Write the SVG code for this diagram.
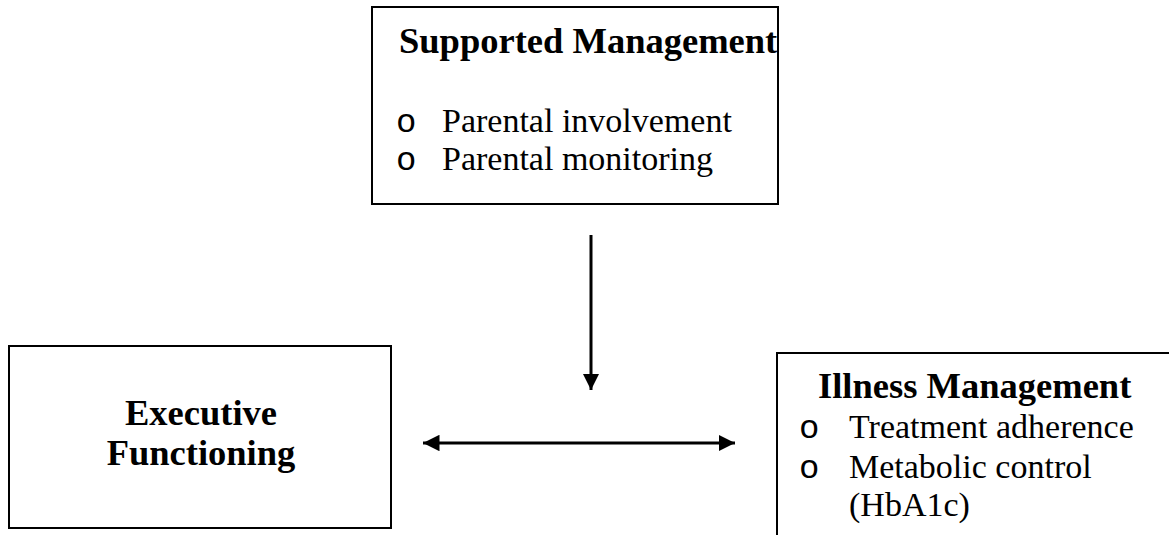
<svg xmlns="http://www.w3.org/2000/svg" width="1169" height="535" viewBox="0 0 1169 535">
<defs>
<style>
.box{fill:#fff;stroke:#000;stroke-width:2}
.b{font-family:"Liberation Serif","Times New Roman",serif;font-weight:bold;font-size:36.5px;fill:#000}
.r{font-family:"Liberation Serif","Times New Roman",serif;font-size:34px;fill:#000}
.o{font-family:"Liberation Mono","Courier New",monospace;font-size:34px;fill:#000}
.c{stroke:#000;stroke-width:3;fill:none}
</style>
<marker id="ah" viewBox="0 0 10 10" refX="10" refY="5" markerWidth="5.5" markerHeight="5.5" orient="auto-start-reverse" markerUnits="strokeWidth">
<path d="M0,0 L10,5 L0,10 Z" fill="#000"/>
</marker>
</defs>
<rect width="1169" height="535" fill="#fff"/>
<g id="supported">
<rect class="box" x="372" y="7" width="406" height="197"/>
<text class="b" x="399" y="53">Supported Management</text>
<text class="o" x="396" y="132">o</text>
<text class="r" x="442" y="132">Parental involvement</text>
<text class="o" x="396" y="170">o</text>
<text class="r" x="442" y="170">Parental monitoring</text>
</g>
<g id="executive">
<rect class="box" x="9" y="346" width="382" height="182"/>
<text class="b" x="201" y="425" text-anchor="middle">Executive</text>
<text class="b" x="201" y="465" text-anchor="middle">Functioning</text>
</g>
<g id="illness">
<rect class="box" x="777" y="353" width="420" height="200"/>
<text class="b" x="818" y="398">Illness Management</text>
<text class="o" x="799" y="438">o</text>
<text class="r" x="849" y="438">Treatment adherence</text>
<text class="o" x="799" y="478">o</text>
<text class="r" x="849" y="478">Metabolic control</text>
<text class="r" x="849" y="516">(HbA1c)</text>
</g>
<g id="connectors">
<line class="c" x1="591" y1="235" x2="591" y2="390" marker-end="url(#ah)"/>
<line class="c" x1="423" y1="443" x2="735" y2="443" marker-start="url(#ah)" marker-end="url(#ah)"/>
</g>
</svg>
